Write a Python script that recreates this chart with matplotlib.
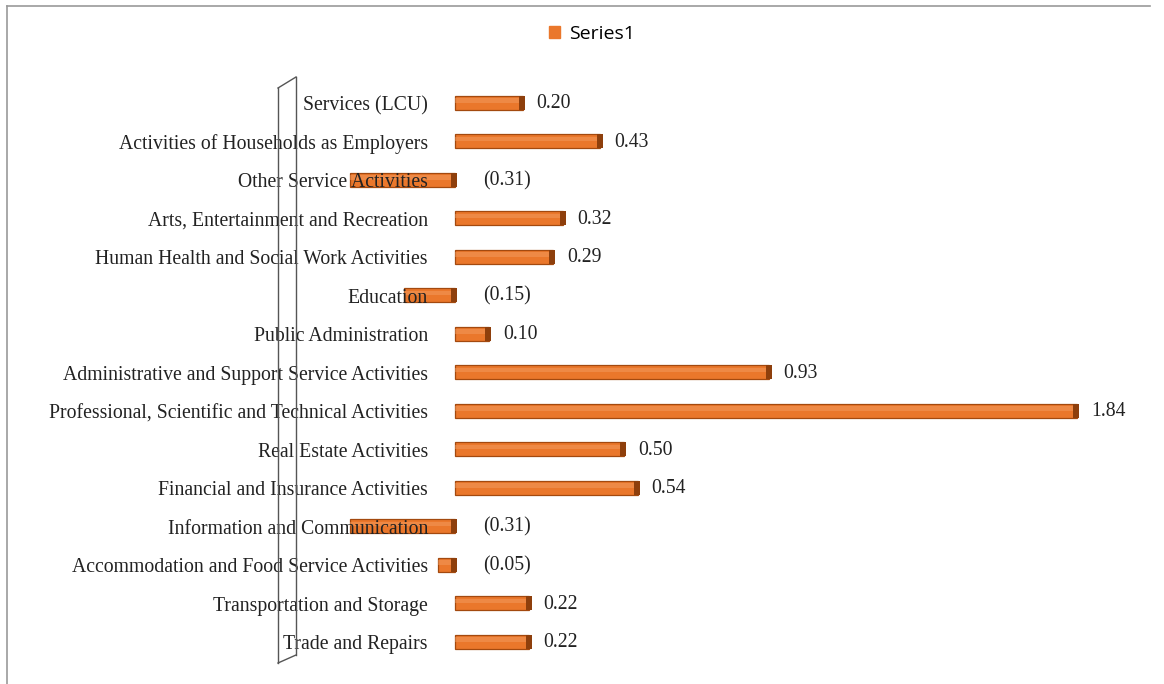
import matplotlib
matplotlib.use('Agg')
import matplotlib.pyplot as plt
import matplotlib.transforms as mtransforms
from matplotlib.lines import Line2D
import numpy as np

# ─────────────────────────────────────────────
# DATA  (bottom -> top)
# ─────────────────────────────────────────────
CATEGORIES = [
    "Trade and Repairs",
    "Transportation and Storage",
    "Accommodation and Food Service Activities",
    "Information and Communication",
    "Financial and Insurance Activities",
    "Real Estate Activities",
    "Professional, Scientific and Technical Activities",
    "Administrative and Support Service Activities",
    "Public Administration",
    "Education",
    "Human Health and Social Work Activities",
    "Arts, Entertainment and Recreation",
    "Other Service Activities",
    "Activities of Households as Employers",
    "Services (LCU)",
]
VALUES = [0.22, 0.22, -0.05, -0.31, 0.54, 0.50, 1.84, 0.93,
          0.10, -0.15, 0.29, 0.32, -0.31, 0.43, 0.20]
SERIES_NAME = "Series1"

BAR_COLOR  = '#EA772B'
EDGE_COLOR = '#A3490F'
HIGHLIGHT  = '#F4A066'
CAP_COLOR  = '#8E3F0C'
SERIF      = ['Liberation Serif', 'DejaVu Serif']

W, H, DPI = 1164, 684, 100
fig = plt.figure(figsize=(W / DPI, H / DPI), dpi=DPI)

# axes placement in pixels (zero line at x=455, 338 px per unit)
ax_left, ax_right = 8, 1150
ax_top, ax_bottom = 83.5, 661
px_per_unit, zero_px = 338.0, 455.0
ax = fig.add_axes([ax_left / W, 1 - ax_bottom / H,
                   (ax_right - ax_left) / W, (ax_bottom - ax_top) / H])
ax.set_xlim((ax_left - zero_px) / px_per_unit, (ax_right - zero_px) / px_per_unit)
ax.set_ylim(-0.5, len(CATEGORIES) - 0.5)
ax.axis('off')

y = np.arange(len(CATEGORIES))
vals = np.array(VALUES)
bh = 0.37

# main cylinder body
ax.barh(y, vals, height=bh, color=BAR_COLOR, edgecolor=EDGE_COLOR, linewidth=0.9, zorder=2)
# soft top highlight
lefts = np.minimum(vals, 0)
ax.barh(y + bh * 0.15, np.abs(vals), left=lefts, height=bh * 0.3,
        color=HIGHLIGHT, linewidth=0, alpha=0.45, zorder=3)
# dark end cap on the right
cap_w = 6 / px_per_unit
ax.barh(y, cap_w, left=np.maximum(vals, 0) - cap_w * 0.6, height=bh * 0.95,
        color=CAP_COLOR, linewidth=0, zorder=4)

# category labels, right aligned 27 px left of zero
lab_off = mtransforms.ScaledTranslation(-27 / DPI, -3 / DPI, fig.dpi_scale_trans)
for yi, cat in zip(y, CATEGORIES):
    ax.text(0, yi, cat, ha='right', va='center', fontsize=14.2, family=SERIF,
            color='#222222', transform=ax.transData + lab_off, zorder=5)

# value labels
for yi, v in zip(y, vals):
    txt = f"{v:.2f}" if v >= 0 else f"({abs(v):.2f})"
    xpos = v if v >= 0 else 0
    dx = 14 if v >= 0 else 28
    off = mtransforms.ScaledTranslation(dx / DPI, -1 / DPI, fig.dpi_scale_trans)
    ax.text(xpos, yi, txt, ha='left', va='center', fontsize=14.2, family=SERIF,
            color='#222222', transform=ax.transData + off)

# 3D wall outline (decoration)
wall = [((278, 88), (278, 663)), ((296, 77), (296, 655)),
        ((278, 88), (296, 77)), ((278, 663), (296, 655))]
for (x0, y0), (x1, y1) in wall:
    fig.add_artist(Line2D([x0 / W, x1 / W], [1 - y0 / H, 1 - y1 / H],
                          color='#555555', linewidth=1.0))

# chart border (top and left)
fig.add_artist(Line2D([7 / W, 1150 / W], [1 - 6 / H, 1 - 6 / H], color='#999999', linewidth=1.2))
fig.add_artist(Line2D([7 / W, 7 / W], [1 - 6 / H, 0], color='#999999', linewidth=1.2))

# legend
handle = plt.Rectangle((0, 0), 1, 1, color=BAR_COLOR)
fig.legend([handle], [SERIES_NAME], loc='center', bbox_to_anchor=(592 / W, 1 - 34 / H),
           frameon=False, handlelength=0.55, handleheight=0.55, handletextpad=0.5,
           prop={'family': ['Open Sans', 'DejaVu Sans'], 'size': 14})

fig.savefig('out.png', dpi=DPI)
